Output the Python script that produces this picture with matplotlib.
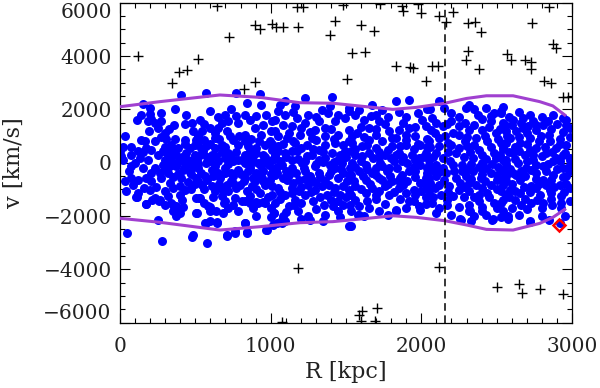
import numpy as np
import matplotlib
matplotlib.use('Agg')
import matplotlib.pyplot as plt
from matplotlib.ticker import MultipleLocator

# ===== members inside the caustics (R [kpc], v [km/s]) =====
members_a = [(403, 2525), (153, 2200), (363, 2025), (436, 1775), (197, 1825), (270, 1862), (208, 1650), (186, 1550),
             (235, 1487), (270, 1550), (429, 1450), (323, 1275), (190, 1200), (484, 1200), (270, 950), (308, 900),
             (363, 900), (36, 990), (137, 860), (164, 800), (230, 800), (429, 860), (507, 860), (385, 550),
             (341, 675), (462, 550), (20, 575), (75, 575), (120, 425), (175, 550), (208, 490), (285, 425),
             (252, 300), (319, 300), (374, 300), (440, 360), (496, 300), (9, 240), (75, 300), (131, 175),
             (186, 110), (297, 110), (341, 110), (396, 110), (451, 110), (507, 110), (75, -140), (153, -200),
             (230, -200), (285, -75), (330, -140), (374, -140), (429, -140), (484, -175), (208, -390), (263, -390),
             (319, -390), (385, -425), (462, -350), (75, -575), (120, -640), (175, -575), (270, -575), (352, -550),
             (407, -575), (507, -575), (31, -700), (87, -825), (208, -700), (330, -760), (451, -725), (396, -890),
             (42, -1075), (197, -1010), (297, -1075), (352, -950), (429, -1010), (109, -1300), (230, -1325),
             (263, -1390), (319, -1260), (396, -1200), (507, -1325), (175, -1550), (341, -1510), (374, -1640),
             (352, -1825), (396, -1890), (374, -2010), (252, -2140), (49, -2640), (484, -2700),
             (300, 600), (330, 500), (350, 420), (410, 200), (430, 40), (460, 0), (480, -50), (500, 200),
             (380, -20), (340, 0), (300, -250), (420, -280), (470, -420), (500, -800), (300, 1100), (360, 1400),
             (480, 1500), (520, 1000), (150, 400), (100, 0), (60, -300), (20, 100), (0, 450), (110, 1600),
             (140, 1800), (200, 2050), (250, 1300), (430, 700), (470, -1000), (410, -1400), (300, -1600),
             (240, -900), (120, -1150), (160, -950)]

members_b = [(281, -2936), (480, -2775), (579, -3000), (570, -2250), (643, -2236), (504, -1875), (712, -2749),
             (763, -2625), (829, -2274), (840, -2587), (973, -2524), (1021, -1875), (1000, -2050), (1072, -2250),
             (111, -1275), (170, -1549), (210, -1400), (260, -1420), (350, -1600), (400, -1750), (420, -1650),
             (524, -1337), (597, -1650), (690, -1500), (720, -1700), (830, -1450), (900, -1475), (950, -1475)]

members_c = [(574, 2610), (767, 2610), (928, 2575), (846, 2240), (740, 2025), (596, 1950), (939, 2150), (773, 1740),
             (829, 1800), (972, 1800), (718, 1550), (784, 1490), (895, 1300), (1006, 1550), (652, 1300), (541, 1175),
             (729, 990), (829, 1050), (630, 925), (939, 1050), (994, 800), (519, 800), (574, 610), (674, 675),
             (784, 675), (851, 610), (906, 550), (1006, 490), (530, 300), (608, 300), (718, 360), (829, 300),
             (884, 240), (950, 300), (1006, 110), (574, 0), (652, 50), (751, 50), (829, 0), (917, 0),
             (519, -200), (608, -260), (696, -200), (784, -260), (862, -200), (950, -325), (1017, -260), (563, -510),
             (663, -575), (751, -510), (829, -575), (906, -510), (994, -640), (608, -890), (707, -825), (795, -825),
             (873, -890), (961, -825), (630, -1075), (718, -1075), (840, -1075), (928, -1140), (762, -1325),
             (807, -1450), (751, -1575), (862, -1510), (917, -1510), (961, -1510), (1006, -1200), (530, -1325),
             (585, -1640), (596, -1825), (508, -1890), (685, -1890), (596, -2200), (641, -2260), (563, -2260),
             (829, -2260), (762, -2575), (707, -2700), (840, -2640), (972, -2510), (1017, -2325),
             (497, 675), (508, 110), (552, 425), (630, 550), (696, 170), (807, 110), (862, 425), (972, 50),
             (1028, 300), (1028, -450), (652, -390), (740, -390), (906, -390), (630, 1110), (829, 800), (707, 1175),
             (939, -140), (751, -760), (541, -825), (895, -700)]

members_c2 = [(530, 1600), (560, 1450), (600, 1300), (680, 1500), (700, 1800), (650, 1700), (860, 1600), (900, 1750),
              (950, 1400), (1000, 1200), (520, 1000), (560, 850), (600, 700), (660, 900), (700, 600), (750, 850),
              (790, 1000), (870, 900), (920, 800), (960, 650), (540, 550), (580, 200), (640, 250), (680, 420),
              (740, 200), (770, 420), (850, 150), (900, 380), (960, 200), (1010, 700), (520, -50), (600, 60),
              (630, -120), (720, -60), (780, 120), (860, -80), (880, 80), (940, 20), (990, -100), (1020, 150),
              (540, -380), (580, -650), (620, -500), (700, -400), (740, -680), (800, -420), (850, -300), (880, -560),
              (940, -560), (1000, -420), (520, -700), (560, -980), (660, -800), (680, -1000), (770, -950),
              (820, -700), (900, -1000), (950, -700), (1010, -880), (620, -1300), (680, -1250), (700, -1450),
              (860, -1250), (980, -1300), (560, -1500), (640, -1800), (780, -1800), (880, -1700), (1000, -1700),
              (900, -2000)]

members_d = [(1229, 2425), (1406, 2450), (1096, 2300), (1163, 2110), (1052, 1925), (1340, 1990), (1395, 2110),
             (1096, 1800), (1174, 1675), (1030, 1610), (1229, 1490), (1318, 1550), (1428, 1550), (1494, 1675),
             (1085, 1425), (1141, 1360), (1295, 1240), (1362, 1300), (1030, 1175), (1196, 1050), (1273, 925),
             (1450, 1050), (1517, 1240), (1108, 925), (1163, 740), (1052, 610), (1240, 675), (1362, 675),
             (1428, 740), (1318, 490), (1174, 425), (1096, 360), (1030, 240), (1406, 360), (1494, 425), (1240, 240),
             (1318, 110), (1141, 110), (1074, -75), (1207, 0), (1395, -75), (1472, 0), (1528, -200), (1041, -390),
             (1119, -450), (1229, -325), (1318, -390), (1384, -450), (1450, -575), (1108, -640), (1185, -640),
             (1273, -640), (1362, -700), (1506, -700), (1052, -950), (1141, -950), (1340, -890), (1428, -950),
             (1517, -1010), (1096, -1200), (1229, -1200), (1373, -1200), (1461, -1200), (1163, -1390),
             (1030, -1510), (1119, -1640), (1152, -1575), (1351, -1575), (1417, -1640), (1528, -1575),
             (1362, -1950), (1251, -2010), (1019, -1890), (1074, -2140), (1096, -2200), (1262, -2140),
             (1517, -2390), (1041, -2260),
             (1141, 425), (1273, 300), (1362, 175), (1450, 110), (1218, -200), (1295, -140), (1141, -200),
             (1428, -200), (1483, -390), (1251, -825), (1185, -1075), (1295, -1010), (1450, -1450), (1119, 1110),
             (1362, 990), (1517, 800)]

members_d2 = [(1060, 2150), (1150, 1900), (1250, 1800), (1300, 1700), (1380, 1850), (1450, 1800), (1520, 1950),
              (1200, 1300), (1260, 1150), (1400, 1250), (1050, 1000), (1150, 800), (1300, 850), (1420, 900),
              (1480, 650), (1080, 700), (1200, 550), (1280, 500), (1350, 420), (1460, 300), (1050, 450), (1100, 200),
              (1180, 150), (1230, 60), (1300, -30), (1350, 20), (1420, 40), (1500, 200), (1530, 450), (1060, 50),
              (1040, -150), (1100, -300), (1170, -380), (1260, -480), (1330, -550), (1400, -300), (1470, -250),
              (1520, -450), (1080, -560), (1230, -600), (1150, -750), (1200, -900), (1300, -750), (1390, -820),
              (1480, -880), (1060, -1100), (1140, -1150), (1270, -1100), (1330, -1300), (1420, -1100),
              (1500, -1300), (1060, -1350), (1200, -1500), (1280, -1450), (1400, -1400), (1480, -1600),
              (1100, -1850), (1180, -1800), (1300, -1750), (1450, -1800), (1200, -2100), (1350, -2200),
              (1460, -2050), (1530, -1800), (1080, -1980)]

members_e = [(1917, 2360), (1829, 2300), (1674, 2175), (1740, 1990), (1519, 2050), (1585, 1990), (2005, 1610),
             (1663, 1740), (1718, 1550), (1574, 1110), (1784, 1175), (1851, 1240), (1917, 1300), (2028, 1360),
             (1652, 860), (1740, 800), (1829, 925), (1961, 990), (1541, 740), (1607, 610), (1696, 550), (1806, 610),
             (1895, 675), (1994, 675), (1563, 300), (1652, 360), (1762, 300), (1851, 360), (1939, 300), (2028, 360),
             (1541, 0), (1630, -75), (1729, 0), (1818, 50), (1906, 0), (1994, -75), (1585, -325), (1674, -390),
             (1773, -325), (1873, -450), (1961, -325), (2039, -390), (1630, -640), (1718, -575), (1806, -700),
             (1906, -700), (1994, -760), (1563, -890), (1674, -950), (1762, -890), (1851, -950), (1950, -1010),
             (1630, -1140), (1696, -1200), (1784, -1200), (1961, -1200), (1530, -1200), (1917, -1450),
             (1641, -1450), (1585, -1640), (1983, -1640), (1829, -1760), (1994, -1760), (1585, -1950), (1530, -2390),
             (1829, 300), (1873, 50), (1784, -200), (1696, -200), (1917, -325), (1740, -640), (1851, -700),
             (1607, 240), (1983, 175), (2028, -575), (1806, 925), (1895, 1050), (1652, 1300), (2028, -950),
             (1581, -1962), (1835, -1800)]

members_e2 = [(1560, 1800), (1620, 1600), (1700, 1800), (1780, 1700), (1850, 1900), (1900, 1700), (1980, 1850),
              (2040, 2000), (1600, 1350), (1700, 1250), (1760, 1450), (1880, 1500), (1960, 1350), (1540, 1000),
              (1620, 950), (1700, 1050), (1900, 850), (1980, 700), (2040, 900), (1560, 500), (1640, 650), (1720, 420),
              (1780, 480), (1860, 620), (1950, 500), (2040, 600), (1600, 80), (1680, 180), (1720, 200), (1800, 180),
              (1880, 220), (1960, 100), (2010, 230), (1560, -150), (1640, -250), (1740, -130), (1840, -180),
              (1950, -160), (2040, -200), (1530, -450), (1610, -500), (1700, -460), (1790, -480), (1860, -560),
              (1960, -530), (1550, -700), (1660, -780), (1780, -800), (1880, -850), (2040, -780), (1600, -1000),
              (1720, -1050), (1820, -1100), (1900, -1150), (2000, -1050), (1560, -1400), (1700, -1350),
              (1760, -1550), (1860, -1350), (1950, -1450), (2030, -1300), (1650, -1700), (1720, -1800),
              (1900, -1700), (2030, -1550), (1620, -2000), (1780, -1950)]

members_f = [(2118, 2300), (2295, 2050), (2317, 2175), (2428, 2050), (2483, 1860), (2528, 1925), (2373, 1800),
             (2074, 1675), (2196, 1550), (2141, 1360), (2063, 1240), (2251, 1360), (2461, 1550), (2539, 1490),
             (2317, 1240), (2406, 1240), (2494, 1110), (2207, 1110), (2118, 925), (2052, 800), (2174, 740),
             (2306, 610), (2439, 800), (2528, 740), (2384, 490), (2096, 360), (2229, 360), (2483, 360), (2052, 110),
             (2141, 175), (2340, 175), (2539, 110), (2207, -75), (2273, -75), (2406, 0), (2074, -260), (2163, -390),
             (2340, -325), (2461, -390), (2539, -325), (2052, -575), (2229, -575), (2295, -510), (2395, -575),
             (2505, -640), (2118, -825), (2185, -890), (2362, -825), (2461, -825), (2052, -1075), (2251, -1010),
             (2317, -1075), (2439, -1140), (2528, -1075), (2130, -1200), (2207, -1260), (2074, -1510), (2384, -1450),
             (2483, -1510), (2317, -1575), (2118, -1700), (2406, -1825), (2317, -1825), (2539, -1825),
             (2262, -2140), (2472, -2140),
             (2251, 1050), (2362, 925), (2118, 610), (2251, 550), (2494, 175), (2406, 300), (2141, -200),
             (2273, -325), (2428, -200), (2096, -510), (2317, -760), (2539, -825), (2384, -1200), (2052, -75),
             (2255, -2124), (2320, -1800), (2475, -2124)]

members_f2 = [(2060, 2000), (2150, 2050), (2200, 1850), (2250, 1700), (2350, 2000), (2400, 1650), (2460, 1750),
              (2540, 2100), (2100, 1500), (2170, 1450), (2290, 1500), (2350, 1400), (2450, 1350), (2520, 1250),
              (2090, 1100), (2160, 1000), (2300, 950), (2420, 1000), (2510, 900), (2060, 600), (2200, 650),
              (2290, 800), (2350, 650), (2460, 600), (2540, 500), (2080, 200), (2180, 400), (2280, 200), (2320, 400),
              (2430, 150), (2520, 300), (2100, -100), (2190, 50), (2330, -50), (2380, -150), (2470, -50),
              (2510, -170), (2120, -350), (2220, -300), (2310, -250), (2400, -420), (2500, -450), (2060, -750),
              (2150, -650), (2260, -750), (2330, -600), (2420, -700), (2540, -600), (2090, -950), (2180, -1100),
              (2280, -900), (2400, -950), (2500, -1000), (2080, -1300), (2170, -1400), (2280, -1300), (2350, -1300),
              (2450, -1300), (2540, -1400), (2170, -1600), (2250, -1650), (2400, -1650), (2500, -1700),
              (2100, -1900), (2200, -1950), (2350, -2000), (2430, -1950), (2530, -2050), (2330, -2200)]

members_g = [(2874, 1800), (2940, 1675), (2962, 1610), (2531, 1860), (2608, 1610), (2675, 1675), (2741, 1550),
             (2553, 1425), (2708, 1360), (2807, 1425), (2631, 1175), (2763, 1240), (2586, 925), (2796, 990),
             (2719, 925), (2653, 740), (2542, 550), (2962, 675), (2896, 550), (2763, 550), (2608, 360), (2686, 300),
             (2830, 360), (2951, 360), (2984, 175), (2741, 110), (2564, 110), (2642, 0), (2874, 50), (2807, -140),
             (2940, -200), (2542, -260), (2697, -200), (2608, -390), (2763, -390), (2874, -450), (2962, -510),
             (2653, -640), (2807, -640), (2564, -700), (2918, -825), (2730, -890), (2586, -1010), (2852, -1010),
             (2984, -950), (2653, -1140), (2785, -1200), (2619, -1390), (2730, -1510), (2807, -1510), (2929, -1260),
             (2664, -1575), (2531, -1510), (2929, -1700), (2575, -2010), (2951, -2010), (2719, -2200), (2918, -2260),
             (2564, 1175), (2675, 1300), (2852, 800), (2741, 300), (2896, 175), (2631, -450), (2990, -75),
             (2830, -825), (2984, -1450), (2763, -950), (2576, -2124), (2720, -2212), (2930, -1522)]

members_g2 = [(2580, 1700), (2650, 1900), (2720, 1800), (2800, 1700), (2840, 1550), (2900, 1450), (2960, 1400),
              (2600, 1400), (2660, 1500), (2760, 1400), (2860, 1250), (2940, 1150), (2990, 1300), (2570, 1000),
              (2650, 950), (2700, 1100), (2850, 1050), (2920, 900), (2990, 950), (2560, 750), (2620, 600),
              (2700, 700), (2780, 800), (2820, 600), (2920, 700), (2580, 400), (2650, 450), (2720, 480), (2800, 250),
              (2870, 400), (2940, 300), (2560, -50), (2620, 150), (2700, 50), (2760, -100), (2840, -50), (2920, 50),
              (2990, 100), (2590, -250), (2660, -300), (2730, -280), (2830, -300), (2900, -250), (2990, -300),
              (2560, -500), (2690, -480), (2760, -620), (2860, -650), (2940, -550), (2600, -800), (2680, -900),
              (2780, -800), (2880, -900), (2960, -800), (2560, -1200), (2620, -1050), (2720, -1100), (2860, -1150),
              (2950, -1100), (2580, -1300), (2690, -1350), (2770, -1400), (2860, -1350), (2600, -1700),
              (2700, -1750), (2800, -1700), (2870, -1600), (2650, -1950), (2800, -2000), (2850, -2150)]

# ===== interlopers (crosses) =====
interlopers = [(121, 4001), (347, 2977), (391, 3412), (442, 3476), (519, 3876), (641, 5876), (725, 4725),
               (825, 2752), (895, 3038), (895, 5164), (929, 5000), (1006, 5201), (1035, 5076), (1083, 5076),
               (1180, 5100), (1176, 5850), (1215, 5830), (1397, 4789), (1426, 5326), (1477, 5914), (1508, 3139),
               (1543, 4101), (1597, 5164), (1625, 4139), (1685, 4939), (1725, 5951), (1835, 3626), (1869, 5876),
               (1879, 5700), (1928, 3601), (1946, 3539), (1979, 5951), (2001, 5601), (2034, 3076), (2074, 3626),
               (2112, 3626), (2118, 5501), (2162, 5289), (2211, 5664), (2295, 3851), (2311, 4201), (2311, 5226),
               (2355, 5289), (2381, 3501), (2394, 4889), (2569, 4076), (2598, 3851), (2691, 3851), (2731, 3789),
               (2731, 3514), (2735, 5226), (2813, 3076), (2848, 5850), (2863, 3001), (2874, 4439), (2897, 4314),
               (2941, 2476), (2974, 2476),
               (1183, -3962), (1072, -5962), (1588, -5713), (1603, -5551), (1597, -5938), (1707, -5463),
               (1691, -5938), (2118, -3926), (2505, -4676), (2649, -4563), (2665, -4901), (2791, -4739),
               (2941, -4926)]

# ===== caustic envelope =====
r_env = [0, 265, 663, 929, 1194, 1413, 1636, 1811, 1968, 2156, 2300, 2432, 2609, 2786, 2873, 2952]
v_up = [2100, 2290, 2540, 2450, 2250, 2230, 2100, 2000, 2075, 2230, 2410, 2510, 2510, 2290, 2130, 1790]
v_lo = [-2085, -2235, -2525, -2400, -2250, -2210, -2090, -1990, -2050, -2175, -2335, -2500, -2525, -2275,
        -2050, -1750]

r_cut = 2155          # dashed vertical line
r_bcg, v_bcg = 2914, -2325   # red diamond

xticks = [0, 1000, 2000, 3000]
yticks = [-6000, -4000, -2000, 0, 2000, 4000, 6000]

plt.rcParams['font.family'] = 'DejaVu Serif'

members = np.array(members_a + members_b + members_c + members_c2 + members_d + members_d2
                   + members_e + members_e2 + members_f + members_f2 + members_g + members_g2)
outl = np.array(interlopers)

fig = plt.figure(figsize=(6.0, 3.88), dpi=100)
ax = fig.add_axes([0.2, 0.1683, 0.7533, 0.8247])

ax.scatter(members[:, 0], members[:, 1], s=42, c='#0000ff', linewidths=0, zorder=2)
ax.plot(r_env, v_up, color='#a040d0', lw=2.2, zorder=3)
ax.plot(r_env, v_lo, color='#a040d0', lw=2.2, zorder=3)
ax.plot(outl[:, 0], outl[:, 1], '+', color='k', ms=6.5, mew=1.0, zorder=4)
ax.axvline(r_cut, color='k', ls=(0, (5, 3)), lw=1.1, zorder=4)
ax.plot(r_bcg, v_bcg, 'D', mfc='none', mec='red', ms=6, mew=1.8, zorder=5)

ax.set_xlim(0, 3000)
ax.set_ylim(-6000, 6000)
ax.xaxis.set_minor_locator(MultipleLocator(100))
ax.yaxis.set_minor_locator(MultipleLocator(500))
ax.set_xticks(xticks)
ax.set_xticklabels([str(t) for t in xticks])
ax.set_yticks(yticks)
ax.set_yticklabels([str(t).replace('-', '\u2212') for t in yticks])
ax.tick_params(which='both', direction='in', top=True, right=True, width=0.8, colors='k')
ax.tick_params(which='major', length=7)
ax.tick_params(which='minor', length=3.5)
ax.tick_params(axis='x', pad=10, labelsize=14.5, labelcolor='#222222')
ax.tick_params(axis='y', pad=6, labelsize=14.5, labelcolor='#222222')
labs = ax.get_yticklabels()
labs[0].set_va('bottom')
labs[-1].set_va('top')
for sp in ax.spines.values():
    sp.set_linewidth(0.9)

ax.set_xlabel('R [kpc]', fontsize=16, color='#222222')
ax.set_ylabel('v [km/s]', fontsize=16, color='#222222')
ax.xaxis.set_label_coords(0.5, -0.12)
ax.yaxis.set_label_coords(-0.21, 0.5)

fig.savefig('out.png', dpi=100)
